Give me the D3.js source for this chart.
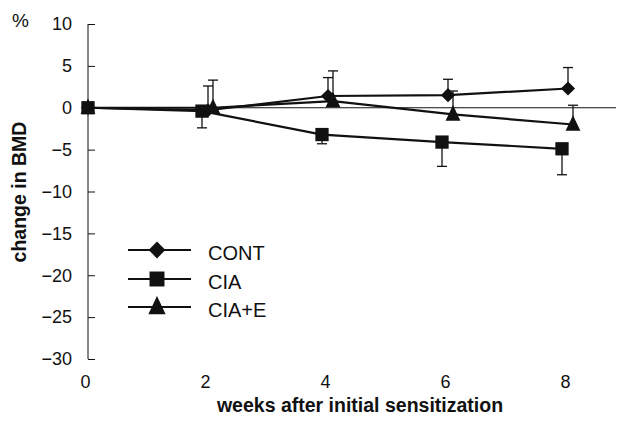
<!DOCTYPE html>
<html>
<head>
<meta charset="utf-8">
<script src="https://cdn.jsdelivr.net/npm/d3@7"></script>
<style>
  body { margin: 0; background: #fff; }
  text { font-family: "Liberation Sans", Arial, sans-serif; fill: #111; }
</style>
</head>
<body>
<div id="container"></div>
<script>
// data
const weeks = [0, 2, 4, 6, 8];
const cont = [0, -0.3, 1.4, 1.5, 2.3];
const contErr = [0, 2.9, 2.2, 1.9, 2.5];
const cia = [0, -0.4, -3.2, -4.1, -4.9];
const ciaErr = [0, 2.0, 1.1, 2.9, 3.1];
const ciaE = [0, 0, 0.8, -0.8, -2.0];
const ciaEErr = [0, 3.3, 3.6, 2.8, 2.3];
const seriesNames = ["CONT", "CIA", "CIA+E"];
const yTicks = [10, 5, 0, -5, -10, -15, -20, -25, -30];

const width = 617
const height = 426
const ink = "#111"

// triangle a bit taller than equilateral, like the original
const tallTriangle = {
  draw(ctx, size) {
    const w = Math.sqrt(size) * 1.0, h = w * 1.05
    ctx.moveTo(0, -h * 0.6)
    ctx.lineTo(w / 2, h * 0.4)
    ctx.lineTo(-w / 2, h * 0.4)
    ctx.closePath()
  }
}

// series config: symbol, nudge in px, error direction
const series = [
  { name: seriesNames[0], vals: cont, err: contErr, sym: d3.symbolDiamond2, size: 128, lsize: 180, dx: 0, dir: 1 },
  { name: seriesNames[1], vals: cia, err: ciaErr, sym: d3.symbolSquare2, size: 225, lsize: 285, dx: -6, dir: -1 },
  { name: seriesNames[2], vals: ciaE, err: ciaEErr, sym: tallTriangle, size: 220, lsize: 300, dx: 5, dir: 1 }
];

const x = d3.scaleLinear().domain([0, 8]).range([88, 568]);
const y = d3.scaleLinear().domain([-30, 10]).range([359, 24]);

const svg = d3.select("#container").append("svg")
  .attr("width", width).attr("height", height);

// zero line
svg.append("line")
  .attr("x1", x(0)).attr("x2", 616)
  .attr("y1", y(0)).attr("y2", y(0))
  .attr("stroke", ink).attr("stroke-width", 1);

// y axis, ticks inward
const yAxis = svg.append("g")
  .attr("transform", `translate(${x(0)},0)`)
  .call(d3.axisLeft(y).tickValues(yTicks).tickSize(-7).tickPadding(16).tickFormat(d3.format("d")));
yAxis.select(".domain").attr("stroke", ink).attr("d", `M0,${y(-30)}V${y(10)}`)
yAxis.selectAll(".tick line").attr("stroke", ink).attr("x1", 0).attr("x2", 7);
yAxis.selectAll(".tick text").attr("font-size", 18).attr("fill", ink)
  .attr("font-family", "Liberation Sans, Arial, sans-serif");

// x axis labels only
const xAxis = svg.append("g")
  .attr("transform", `translate(-3,${y(-30)})`)
  .call(d3.axisBottom(x).tickValues(weeks).tickSize(0).tickPadding(16));
xAxis.select(".domain").remove();
xAxis.selectAll(".tick text").attr("font-size", 18).attr("fill", ink)
  .attr("font-family", "Liberation Sans, Arial, sans-serif");

svg.append("text").attr("x", 12).attr("y", 27).attr("font-size", 19).text("%");

svg.append("text")
  .attr("x", 360).attr("y", 412)
  .attr("text-anchor", "middle").attr("font-size", 19.5).attr("font-weight", "bold")
  .text("weeks after initial sensitization");

svg.append("text")
  .attr("transform", "translate(26,192) rotate(-90)")
  .attr("text-anchor", "middle").attr("font-size", 19.5).attr("font-weight", "bold")
  .text("change in BMD");

const line = d3.line()
  .x((d, i) => x(weeks[i]) + (i === 0 ? 0 : d.dx))
  .y(d => y(d.v));

series.forEach(s => {
  const pts = s.vals.map((v, i) => ({ v, dx: s.dx, e: s.err[i], i }));
  const px = (d) => x(weeks[d.i]) + (d.i === 0 ? 0 : s.dx);

  // error bars
  const eb = svg.append("g").selectAll("g").data(pts.filter(d => d.e > 0)).enter().append("g");
  eb.append("line")
    .attr("x1", px).attr("x2", px)
    .attr("y1", d => y(d.v)).attr("y2", d => y(d.v + s.dir * d.e))
    .attr("stroke", ink).attr("stroke-width", 1.3);
  eb.append("line")
    .attr("x1", d => px(d) - 5).attr("x2", d => px(d) + 5)
    .attr("y1", d => y(d.v + s.dir * d.e)).attr("y2", d => y(d.v + s.dir * d.e))
    .attr("stroke", ink).attr("stroke-width", 1.3);

  svg.append("path")
    .attr("d", line(pts))
    .attr("fill", "none").attr("stroke", ink).attr("stroke-width", 2.2);

  svg.append("g").selectAll("path").data(pts).enter().append("path")
    .attr("d", d3.symbol(s.sym, s.size))
    .attr("transform", d => `translate(${px(d)},${y(d.v)})`)
    .attr("fill", ink);
});

// legend
const legendY = [250, 279, 307];
series.forEach((s, k) => {
  const g = svg.append("g").attr("transform", `translate(0,${legendY[k]})`);
  g.append("line").attr("x1", 128).attr("x2", 191).attr("stroke", ink).attr("stroke-width", 2.2);
  g.append("path").attr("d", d3.symbol(s.sym, s.lsize)).attr("transform", "translate(157,0)").attr("fill", ink);
  g.append("text").attr("x", 208).attr("y", 10).attr("font-size", 20).text(s.name);
});
</script>
</body>
</html>
